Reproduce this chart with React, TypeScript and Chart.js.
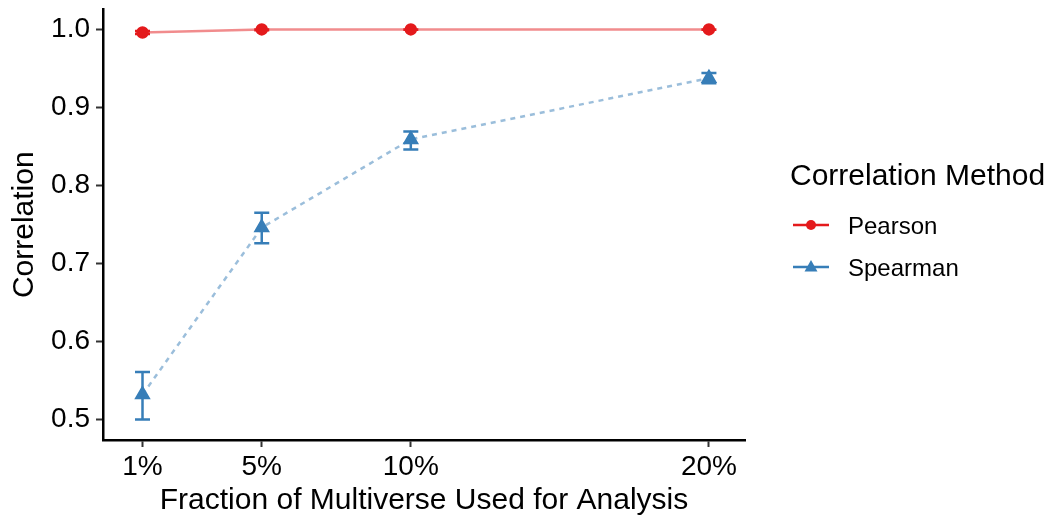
import React, { useEffect, useRef } from "react";
import { Chart, registerables } from "chart.js";

Chart.register(...registerables);

const xValues = [1, 5, 10, 20];
const xTickLabels = ["1%", "5%", "10%", "20%"];
const pearsonMean = [0.996, 1.0, 1.0, 1.0];
const pearsonLow = [0.994, 0.999, 0.9995, 0.9995];
const pearsonHigh = [0.998, 1.0, 1.0, 1.0];
const spearmanMean = [0.532, 0.746, 0.859, 0.9375];
const spearmanLow = [0.5, 0.726, 0.846, 0.931];
const spearmanHigh = [0.561, 0.765, 0.869, 0.944];
const yTicks = [0.5, 0.6, 0.7, 0.8, 0.9, 1.0];
const seriesNames = ["Pearson", "Spearman"];
const legendTitle = "Correlation Method";

const RED = "#E41A1C";
const BLUE = "#377EB8";
const FONT = "'Liberation Sans', Arial, sans-serif";

const errorBarPlugin = {
  id: "errorBars",
  afterDatasetsDraw(chart: any) {
    const { ctx, scales } = chart;
    const xs = scales.x;
    const ys = scales.y;
    const sets = [
      { low: pearsonLow, high: pearsonHigh, color: RED },
      { low: spearmanLow, high: spearmanHigh, color: BLUE },
    ];
    ctx.save();
    sets.forEach((s) => {
      ctx.strokeStyle = s.color;
      ctx.lineWidth = 2.5;
      xValues.forEach((xv, i) => {
        const px = xs.getPixelForValue(xv);
        const py1 = ys.getPixelForValue(s.low[i]);
        const py2 = ys.getPixelForValue(s.high[i]);
        const hw = 7.5;
        ctx.beginPath();
        ctx.moveTo(px, py1);
        ctx.lineTo(px, py2);
        ctx.moveTo(px - hw, py1);
        ctx.lineTo(px + hw, py1);
        ctx.moveTo(px - hw, py2);
        ctx.lineTo(px + hw, py2);
        ctx.stroke();
      });
    });
    ctx.restore();
  },
};

const legendPlugin = {
  id: "customLegend",
  afterDraw(chart: any) {
    const { ctx } = chart;
    ctx.save();
    ctx.fillStyle = "#000";
    ctx.textBaseline = "alphabetic";
    ctx.textAlign = "left";
    ctx.font = `30px ${FONT}`;
    ctx.fillText(legendTitle, 790, 185);
    const items = [
      { name: seriesNames[0], color: RED, y: 225, style: "circle" },
      { name: seriesNames[1], color: BLUE, y: 267, style: "triangle" },
    ];
    items.forEach((it) => {
      ctx.strokeStyle = it.color;
      ctx.lineWidth = 2.5;
      ctx.beginPath();
      ctx.moveTo(793, it.y);
      ctx.lineTo(829, it.y);
      ctx.stroke();
      ctx.fillStyle = it.color;
      ctx.beginPath();
      if (it.style === "circle") {
        ctx.arc(811, it.y, 5, 0, Math.PI * 2);
      } else {
        ctx.moveTo(811, it.y - 7);
        ctx.lineTo(817.5, it.y + 4.5);
        ctx.lineTo(804.5, it.y + 4.5);
        ctx.closePath();
      }
      ctx.fill();
      ctx.fillStyle = "#000";
      ctx.font = `24px ${FONT}`;
      ctx.fillText(it.name, 848, it.y + 8.5);
    });
    ctx.restore();
  },
};

export default function App() {
  const ref = useRef<HTMLCanvasElement | null>(null);

  useEffect(() => {
    if (!ref.current) return;
    const chart = new Chart(ref.current, {
      type: "line",
      data: {
        datasets: [
          {
            label: seriesNames[0],
            data: xValues.map((x, i) => ({ x, y: pearsonMean[i] })),
            borderColor: "rgba(228,26,28,0.5)",
            backgroundColor: RED,
            pointBackgroundColor: RED,
            pointBorderColor: RED,
            pointStyle: "circle",
            pointRadius: 5,
            borderWidth: 2.5,
            tension: 0,
          },
          {
            label: seriesNames[1],
            data: xValues.map((x, i) => ({ x, y: spearmanMean[i] })),
            borderColor: "rgba(55,126,184,0.5)",
            backgroundColor: BLUE,
            pointBackgroundColor: BLUE,
            pointBorderColor: BLUE,
            pointStyle: "triangle",
            pointRadius: 7,
            borderWidth: 2.5,
            borderDash: [5, 5],
            tension: 0,
          },
        ],
      },
      options: {
        animation: false,
        responsive: false,
        maintainAspectRatio: false,
        layout: { padding: { left: 0, right: 303, top: 8, bottom: 0 } },
        plugins: {
          legend: { display: false },
          tooltip: { enabled: false },
        },
        scales: {
          x: {
            type: "linear",
            min: -0.325,
            max: 21.21,
            afterBuildTicks: (scale: any) => {
              scale.ticks = xValues.map((v) => ({ value: v }));
            },
            afterFit: (scale: any) => {
              scale.height = 79;
              scale.paddingLeft = 0;
              scale.paddingRight = 0;
            },
            ticks: {
              callback: (v: any) => {
                const i = xValues.indexOf(Number(v));
                return i >= 0 ? xTickLabels[i] : "";
              },
              font: { family: FONT, size: 28 },
              color: "#000",
              padding: 3,
              maxRotation: 0,
              autoSkip: false,
            },
            grid: {
              display: true,
              drawOnChartArea: false,
              drawTicks: true,
              tickLength: 7,
              tickColor: "#333",
              tickWidth: 2,
            },
            border: { display: true, color: "#000", width: 2.5 },
            title: {
              display: true,
              text: "Fraction of Multiverse Used for Analysis",
              font: { family: FONT, size: 30 },
              color: "#000",
              padding: { top: 0, bottom: 0 },
            },
          },
          y: {
            type: "linear",
            min: 0.4738,
            max: 1.0255,
            afterBuildTicks: (scale: any) => {
              scale.ticks = yTicks.map((v) => ({ value: v }));
            },
            afterFit: (scale: any) => {
              scale.width = 103;
              scale.paddingTop = 0;
              scale.paddingBottom = 0;
            },
            ticks: {
              callback: (v: any) => Number(v).toFixed(1),
              font: { family: FONT, size: 28 },
              color: "#000",
              padding: 6,
            },
            grid: {
              display: true,
              drawOnChartArea: false,
              drawTicks: true,
              tickLength: 7,
              tickColor: "#333",
              tickWidth: 2,
            },
            border: { display: true, color: "#000", width: 2.5 },
            title: {
              display: true,
              text: "Correlation",
              font: { family: FONT, size: 30 },
              color: "#000",
              padding: { top: 7, bottom: 0 },
            },
          },
        },
      },
      plugins: [errorBarPlugin, legendPlugin],
    } as any);
    return () => chart.destroy();
  }, []);

  return (
    <div style={{ position: "fixed", left: 0, top: 0, width: 1048, height: 519, background: "#fff" }}>
      <canvas ref={ref} width={1048} height={519} style={{ width: 1048, height: 519 }} />
    </div>
  );
}
